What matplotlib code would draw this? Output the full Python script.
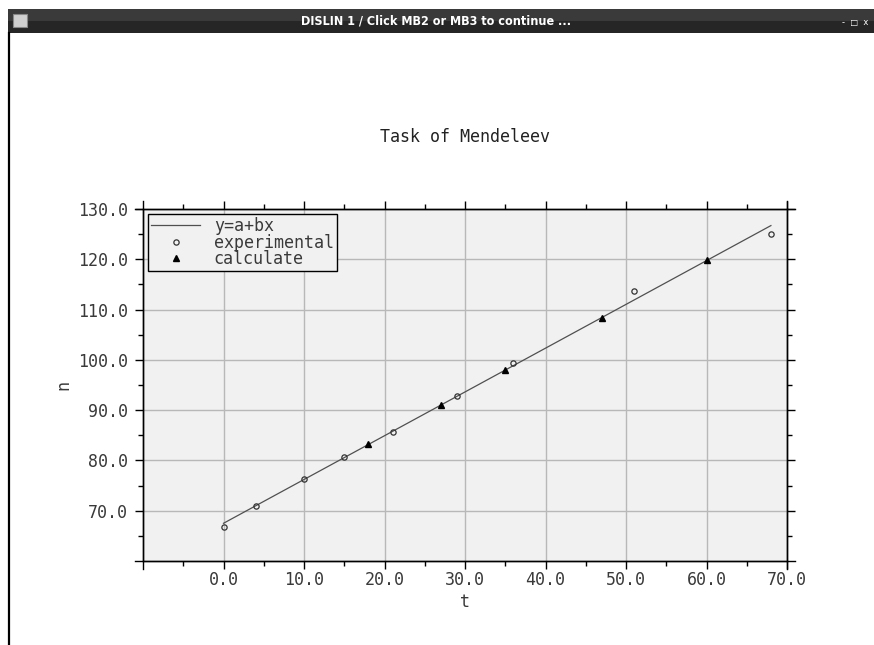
import numpy as np
import matplotlib
matplotlib.use("Agg")
import matplotlib.pyplot as plt
from matplotlib.patches import Rectangle
from matplotlib.lines import Line2D

# Mendeleev data: temperature t vs solubility n
t_exp = [0, 4, 10, 15, 21, 29, 36, 51, 68]
n_exp = [66.7, 71.0, 76.3, 80.6, 85.7, 92.9, 99.4, 113.6, 125.1]

t_calc = [18, 27, 35, 47, 60]
n_calc = [83.2, 91.0, 98.0, 108.4, 119.8]

# fitted line y=a+bx, end points
t_line = [0, 68]
n_line = [67.5, 126.7]

x_ticks = [0, 10, 20, 30, 40, 50, 60, 70]
y_ticks = [70, 80, 90, 100, 110, 120, 130]

mono = "DejaVu Sans Mono"
fs = 12
txt_col = "#3a3a3a"

fig = plt.figure(figsize=(8.74, 6.45), dpi=100)
fig.patch.set_facecolor("white")

# window decoration (title bar + left border)
W, H = 874, 645
fig.add_artist(Rectangle((8 / W, 1 - 33 / H), 1, 24 / H, transform=fig.transFigure,
                         facecolor="#262626", edgecolor="none"))
fig.add_artist(Rectangle((8 / W, 1 - 21 / H), 1, 12 / H, transform=fig.transFigure,
                         facecolor="#3a3a3a", edgecolor="none"))
fig.add_artist(Rectangle((13 / W, 1 - 27 / H), 14 / W, 13 / H, transform=fig.transFigure,
                         facecolor="#d0d0d0", edgecolor="#888888", lw=0.8))
fig.add_artist(Line2D([8.5 / W, 8.5 / W], [0, 1 - 33 / H], transform=fig.transFigure,
                      color="black", lw=1.6))
fig.text(436 / W, 1 - 21 / H, "DISLIN 1 / Click MB2 or MB3 to continue ...",
         color="white", fontsize=9, fontweight="bold", ha="center", va="center",
         family="DejaVu Sans", fontstretch="condensed")
fig.text(842 / W, 1 - 22 / H, "-  \u25a1  x", color="white", fontsize=6,
         ha="left", va="center")

ax = fig.add_axes([143 / W, 84 / H, 644 / W, 352 / H])
ax.set_facecolor("#f1f1f1")

ax.plot(t_line, n_line, color="#505050", lw=0.9, label="y=a+bx", zorder=3)
ax.plot(t_exp, n_exp, "o", ms=3.8, mfc="none", mec="#333333", mew=0.9,
        label="experimental", zorder=4)
ax.plot(t_calc, n_calc, "^", ms=4, color="black", label="calculate", zorder=4)

ax.set_xlim(-10, 70)
ax.set_ylim(60, 130)
ax.set_xticks(x_ticks)
ax.set_yticks(y_ticks)
ax.set_xticklabels([f"{v:.1f}" for v in x_ticks], family=mono, fontsize=fs, color=txt_col)
ax.set_yticklabels([f"{v:.1f}" for v in y_ticks], family=mono, fontsize=fs, color=txt_col)
ax.set_xticks(np.arange(-5, 70, 10), minor=True)
ax.set_yticks(np.arange(65, 130, 10), minor=True)
ax.tick_params(which="major", direction="out", length=6, width=1,
               top=True, right=True)
ax.tick_params(which="minor", direction="out", length=3.5, width=1,
               top=True, right=True)
ax.tick_params(axis="x", which="major", pad=1)
ax.tick_params(axis="y", which="major", pad=5)

ax.grid(True, which="major", color="#b8b8b8", lw=1)
ax.set_axisbelow(True)
for sp in ax.spines.values():
    sp.set_color("black")
    sp.set_linewidth(1)

# axis lines reach a little past the corners, as in DISLIN
ex = 8 / 644
ey = 8 / 352
for xs, ys in [([-ex, 1 + ex], [0, 0]), ([-ex, 1 + ex], [1, 1]),
               ([0, 0], [-ey, 1 + ey]), ([1, 1], [-ey, 1 + ey])]:
    ax.add_line(Line2D(xs, ys, transform=ax.transAxes, color="black", lw=1, clip_on=False))

ax.set_xlabel("t", family=mono, fontsize=fs, color=txt_col, labelpad=3)
ax.set_ylabel("n", family=mono, fontsize=fs, color=txt_col, labelpad=4)
ax.set_title("Task of Mendeleev", family=mono, fontsize=fs, color="#222222", pad=48)

leg = ax.legend(loc="upper left", prop={"family": mono, "size": fs},
                frameon=True, fancybox=False, borderaxespad=0.3, borderpad=0.2,
                handlelength=2.9, handletextpad=0.85, labelspacing=-0.1,
                facecolor="#f1f1f1", edgecolor="black", framealpha=1)
leg.get_frame().set_linewidth(1)
for txt in leg.get_texts():
    txt.set_color(txt_col)

fig.savefig("out.png", dpi=100)
